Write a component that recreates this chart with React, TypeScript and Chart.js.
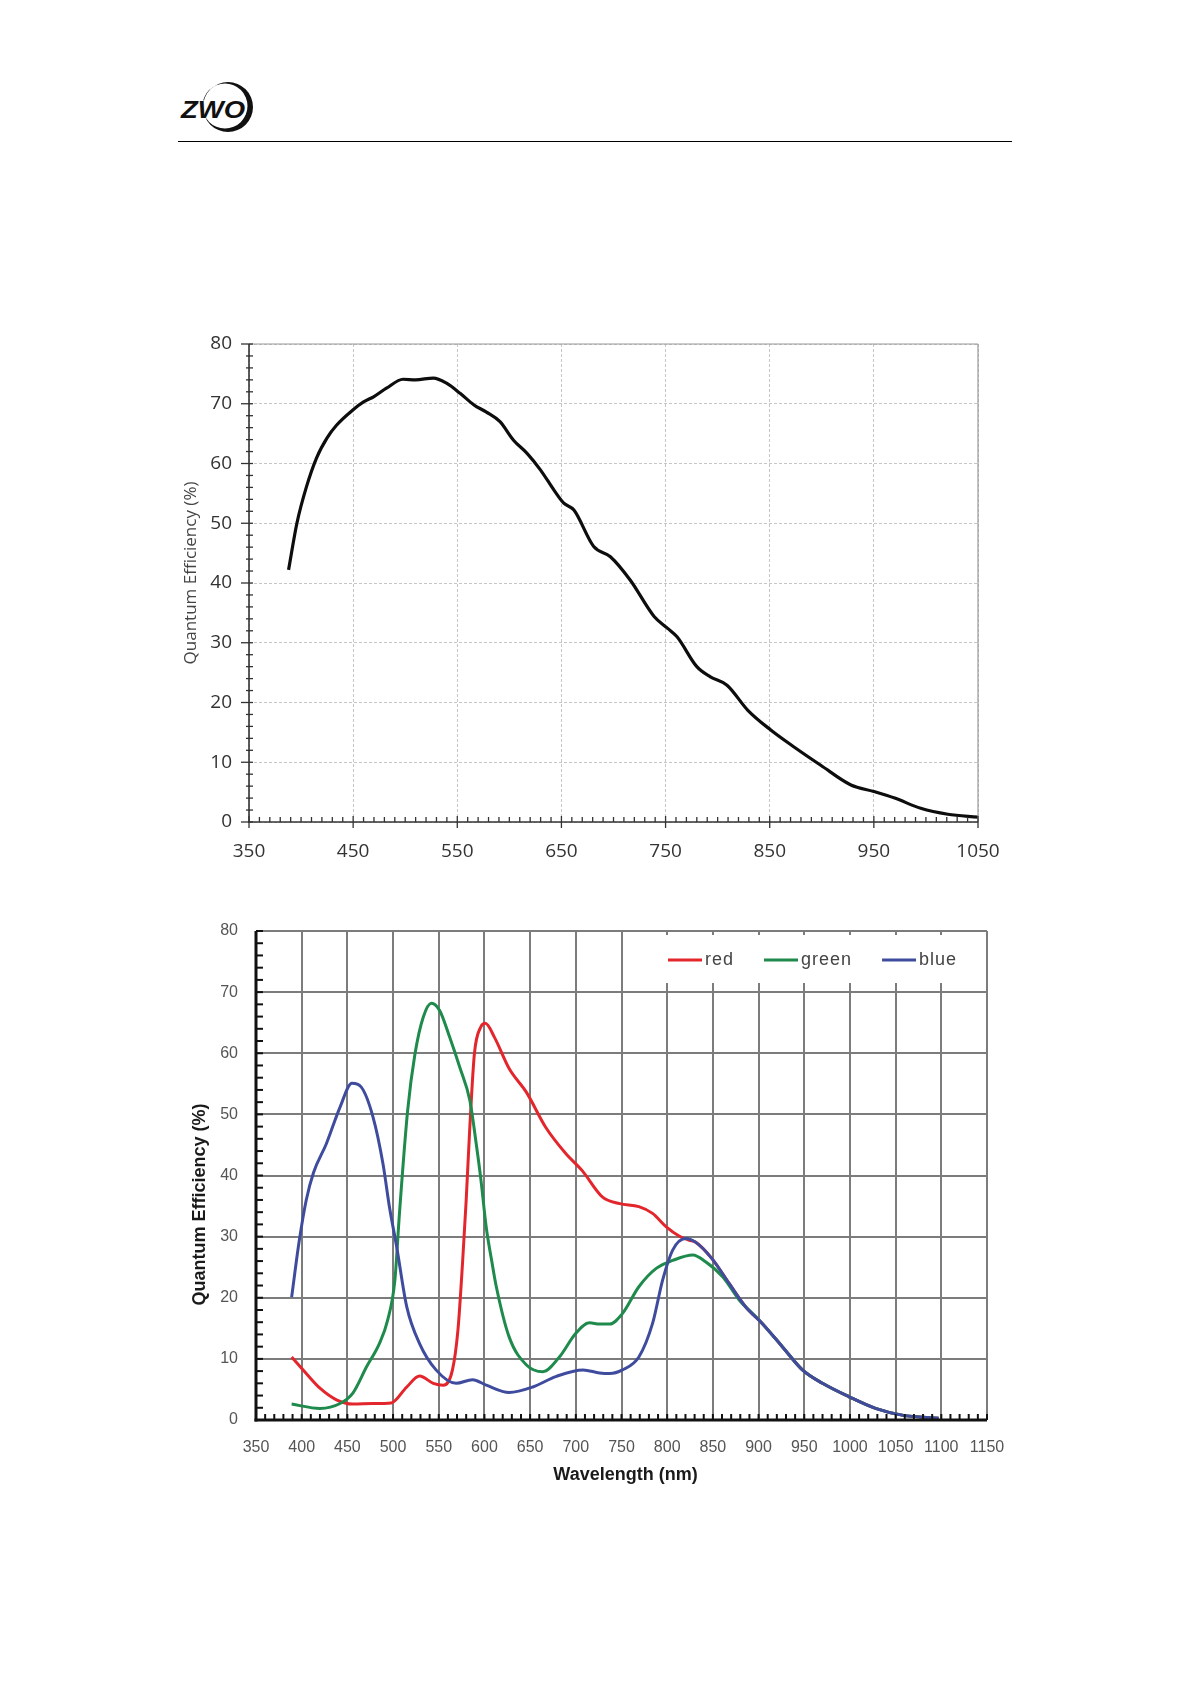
import React, { useEffect, useRef } from "react";
import { Chart, registerables } from "chart.js";

Chart.register(...registerables);

// ---------------- data: top chart (mono QE) ----------------
const qeWavelengths = [388, 396, 405, 415, 425, 434, 450, 460, 470, 482, 498, 510, 527, 540, 553, 566, 578, 591, 604, 617, 630, 643, 652, 662, 681, 697, 716, 739, 752, 761, 780, 793, 809, 829, 851, 873, 899, 928, 950, 970, 995, 1021, 1050];
const qeValues = [42.2, 50, 56, 61, 64.3, 66.4, 69, 70.3, 71.2, 72.6, 74.1, 74.0, 74.3, 73.4, 71.7, 69.8, 68.6, 67, 63.9, 61.7, 58.9, 55.5, 53.4, 52.2, 46.1, 44.4, 40.5, 34.4, 32.4, 31, 26, 24.3, 22.9, 18.7, 15.4, 12.6, 9.5, 6.2, 5.1, 4.0, 2.3, 1.3, 0.8];

// ---------------- data: bottom chart (RGB QE) ----------------
const redWavelengths = [389, 405, 420, 438, 456, 478, 498, 515, 529, 544, 555, 565, 571, 576, 580, 584, 589, 596, 601, 611, 627, 646, 667, 689, 707, 729, 748, 769, 784, 799, 813, 824, 831, 849, 868, 886, 904, 926, 948, 970, 999, 1028, 1057, 1097];
const redValues = [10.3, 7.6, 5.2, 3.3, 2.6, 2.7, 2.8, 5.4, 7.2, 6.0, 5.7, 8.2, 14.7, 25.6, 35.9, 47.9, 59.9, 64.3, 64.9, 62.6, 57.5, 53.6, 47.9, 43.6, 40.8, 36.5, 35.4, 34.9, 33.8, 31.6, 30.1, 29.4, 29.1, 26.4, 22.3, 18.5, 15.8, 12.0, 8.2, 6.0, 3.8, 1.9, 0.8, 0.3];

const greenWavelengths = [389, 420, 442, 456, 471, 485, 494, 502, 507, 516, 524, 533, 542, 551, 562, 573, 584, 591, 596, 602, 608, 613, 627, 646, 664, 682, 700, 715, 726, 737, 751, 769, 788, 806, 828, 842, 861, 879, 897, 904, 926, 948, 970, 999, 1028, 1057, 1097];
const greenValues = [2.6, 1.9, 2.7, 4.4, 8.7, 12.5, 16.3, 22.9, 33.8, 50.7, 59.9, 65.9, 68.2, 67, 62.6, 57.7, 52.3, 45.2, 39.5, 31.5, 26, 21.8, 13.6, 9.0, 7.9, 10.3, 14.2, 15.9, 15.7, 15.7, 17.4, 21.8, 24.8, 26.1, 27.0, 25.9, 23.4, 19.6, 16.9, 15.8, 12.0, 8.2, 6.0, 3.8, 1.9, 0.8, 0.3];

const blueWavelengths = [389, 397, 405, 413, 427, 442, 455, 465, 478, 489, 496, 504, 515, 529, 547, 569, 587, 602, 627, 653, 678, 708, 726, 737, 751, 769, 784, 795, 806, 820, 831, 849, 868, 886, 904, 926, 948, 970, 999, 1028, 1057, 1097];
const blueValues = [20.1, 29, 36, 40.5, 45.2, 51.2, 55.1, 54.5, 49.6, 41.9, 34.9, 28.3, 18.5, 12.5, 8.2, 6.0, 6.6, 5.7, 4.5, 5.4, 7.1, 8.2, 7.7, 7.6, 8.2, 10.3, 15.8, 22.9, 27.8, 29.7, 29.1, 26.4, 22.3, 18.5, 15.8, 12.0, 8.2, 6.0, 3.8, 1.9, 0.8, 0.3];

const seriesLabels = ["red", "green", "blue"];
const yTitle = "Quantum Efficiency (%)";
const xTitle = "Wavelength (nm)";

const toXY = (xs: number[], ys: number[]) => xs.map((x, i) => ({ x, y: ys[i] }));
const plainLabel = (v: any) => String(v);

// ---------------- decoration plugin (ticks, frame, titles, legend) ----------------
function makeDecor(o: any) {
  return {
    id: "decor",
    afterDraw(chart: any) {
      const { ctx, chartArea: a, scales } = chart;
      const xs = scales.x;
      const ys = scales.y;
      const seg = (x1: number, y1: number, x2: number, y2: number) => {
        ctx.beginPath();
        ctx.moveTo(x1, y1);
        ctx.lineTo(x2, y2);
        ctx.stroke();
      };
      ctx.save();
      ctx.lineCap = "butt";

      // legend (inside plot area, on a white box)
      if (o.legend) {
        const L = o.legend;
        ctx.fillStyle = "#ffffff";
        const bx = a.left + L.boxLeft;
        ctx.fillRect(bx, a.top + L.boxTop, a.right - L.boxRight - bx, L.boxHeight);
        let cx = a.left + L.start;
        const cy = a.top + L.y;
        ctx.font = L.font;
        ctx.textBaseline = "middle";
        ctx.textAlign = "left";
        if ("letterSpacing" in ctx) ctx.letterSpacing = L.spacing;
        chart.data.datasets.forEach((ds: any) => {
          ctx.strokeStyle = ds.borderColor;
          ctx.lineWidth = 3;
          seg(cx, cy, cx + L.lineLen, cy);
          const tx = cx + L.lineLen + L.gap;
          ctx.fillStyle = L.color;
          ctx.fillText(ds.label, tx, cy);
          cx = tx + ctx.measureText(ds.label).width + L.itemGap;
        });
        if ("letterSpacing" in ctx) ctx.letterSpacing = "0px";
      }

      // frame: top + right
      ctx.strokeStyle = o.frameColor;
      ctx.lineWidth = o.frameWidth;
      seg(a.left, a.top, a.right, a.top);
      seg(a.right, a.top, a.right, a.bottom);

      // minor / major ticks
      ctx.strokeStyle = o.tickColor;
      ctx.lineWidth = o.tickWidth;
      for (let v = ys.min; v <= ys.max + 1e-6; v += o.yMinor) {
        const p = ys.getPixelForValue(v);
        const major = Math.abs(v % o.yMajor) < 1e-6;
        const len = major ? o.yMajorLen : o.yMinorLen;
        seg(a.left - len[0], p, a.left + len[1], p);
      }
      for (let v = xs.min; v <= xs.max + 1e-6; v += o.xMinor) {
        const p = xs.getPixelForValue(v);
        const major = Math.abs((v - xs.min) % o.xMajor) < 1e-6;
        const len = major ? o.xMajorLen : o.xMinorLen;
        seg(p, a.bottom + len[0], p, a.bottom - len[1]);
      }

      // axes lines
      ctx.strokeStyle = o.axisColor;
      ctx.lineWidth = o.axisWidth;
      seg(a.left, a.top, a.left, a.bottom + o.axisWidth / 2);
      seg(a.left - o.axisWidth / 2, a.bottom, a.right, a.bottom);

      // axis titles
      ctx.textAlign = "center";
      ctx.textBaseline = "middle";
      if (o.yTitle) {
        const T = o.yTitle;
        ctx.font = T.font;
        ctx.fillStyle = T.color;
        ctx.save();
        ctx.translate(a.left + T.dx, (a.top + a.bottom) / 2 + T.dy);
        ctx.rotate(-Math.PI / 2);
        ctx.fillText(T.text, 0, 0);
        ctx.restore();
      }
      if (o.xTitle) {
        const T = o.xTitle;
        ctx.font = T.font;
        ctx.fillStyle = T.color;
        ctx.fillText(T.text, (a.left + a.right) / 2 + T.dx, a.bottom + T.dy);
      }
      ctx.restore();
    },
  };
}

function fixY(width: number) {
  return (s: any) => {
    s.width = width;
    s.paddingTop = 0;
    s.paddingBottom = 0;
    s.paddingLeft = 0;
    s.paddingRight = 0;
  };
}
function fixX(height: number) {
  return (s: any) => {
    s.height = height;
    s.paddingTop = 0;
    s.paddingBottom = 0;
    s.paddingLeft = 0;
    s.paddingRight = 0;
  };
}

// ---------------- configs ----------------
function topConfig(): any {
  const tickFont = { family: '"Open Sans", "DejaVu Sans", sans-serif', size: 19 };
  return {
    type: "line",
    data: {
      datasets: [
        {
          label: "QE",
          data: toXY(qeWavelengths, qeValues),
          borderColor: "#0d0d0d",
          borderWidth: 3.2,
          pointRadius: 0,
          fill: false,
          cubicInterpolationMode: "monotone",
        },
      ],
    },
    options: {
      responsive: false,
      animation: false,
      layout: { autoPadding: false, padding: { left: 0, top: 24, right: 42, bottom: 8 } },
      plugins: { legend: { display: false }, tooltip: { enabled: false } },
      scales: {
        x: {
          type: "linear",
          min: 350,
          max: 1050,
          afterFit: fixX(60),
          ticks: { stepSize: 100, font: tickFont, color: "#333", padding: 18, maxRotation: 0, autoSkip: false, callback: plainLabel },
          grid: { color: "#c6c6c6", lineWidth: 1, drawTicks: false, borderDash: [3, 2] },
          border: { display: false, dash: [3, 2] },
        },
        y: {
          type: "linear",
          min: 0,
          max: 80,
          afterFit: fixY(89),
          ticks: { stepSize: 10, font: tickFont, color: "#333", padding: 17, autoSkip: false, callback: plainLabel },
          grid: { color: "#c6c6c6", lineWidth: 1, drawTicks: false, borderDash: [3, 2] },
          border: { display: false, dash: [3, 2] },
        },
      },
    },
    plugins: [
      makeDecor({
        frameColor: "#9a9a9a",
        frameWidth: 1.2,
        axisColor: "#333",
        axisWidth: 1.6,
        tickColor: "#333",
        tickWidth: 1.3,
        yMinor: 2,
        yMajor: 10,
        yMinorLen: [3, 4],
        yMajorLen: [8, 4],
        xMinor: 10,
        xMajor: 100,
        xMinorLen: [0, 5],
        xMajorLen: [6, 6],
        yTitle: { text: yTitle, font: '17px "Open Sans", "DejaVu Sans", sans-serif', color: "#444", dx: -58, dy: -10 },
      }),
    ],
  };
}

function bottomConfig(): any {
  const tickFont = { family: '"Liberation Sans", Arial, sans-serif', size: 16 };
  const common = { borderWidth: 3, pointRadius: 0, fill: false, cubicInterpolationMode: "monotone" };
  return {
    type: "line",
    data: {
      datasets: [
        { label: seriesLabels[0], data: toXY(redWavelengths, redValues), borderColor: "#e3262c", order: 2, ...common },
        { label: seriesLabels[1], data: toXY(greenWavelengths, greenValues), borderColor: "#1e8a4c", order: 1, ...common },
        { label: seriesLabels[2], data: toXY(blueWavelengths, blueValues), borderColor: "#3f4c9e", order: 0, ...common },
      ],
    },
    options: {
      responsive: false,
      animation: false,
      layout: { autoPadding: false, padding: { left: 0, top: 31, right: 33, bottom: 20 } },
      plugins: { legend: { display: false }, tooltip: { enabled: false } },
      scales: {
        x: {
          type: "linear",
          min: 350,
          max: 1150,
          afterFit: fixX(60),
          ticks: { stepSize: 50, font: tickFont, color: "#555", padding: 18, maxRotation: 0, autoSkip: false, callback: plainLabel },
          grid: { color: "#7c7c7c", lineWidth: 2, drawTicks: false },
          border: { display: false },
        },
        y: {
          type: "linear",
          min: 0,
          max: 80,
          afterFit: fixY(86),
          ticks: { stepSize: 10, font: tickFont, color: "#555", padding: 18, autoSkip: false, callback: plainLabel },
          grid: { color: "#7c7c7c", lineWidth: 2, drawTicks: false },
          border: { display: false },
        },
      },
    },
    plugins: [
      makeDecor({
        frameColor: "#7c7c7c",
        frameWidth: 2,
        axisColor: "#111",
        axisWidth: 3,
        tickColor: "#111",
        tickWidth: 2,
        yMinor: 2,
        yMajor: 10,
        yMinorLen: [0, 7],
        yMajorLen: [0, 7],
        xMinor: 10,
        xMajor: 50,
        xMinorLen: [0, 6],
        xMajorLen: [0, 6],
        yTitle: { text: yTitle, font: 'bold 18px "Liberation Sans", Arial, sans-serif', color: "#1a1a1a", dx: -56, dy: 29 },
        xTitle: { text: xTitle, font: 'bold 18px "Liberation Sans", Arial, sans-serif', color: "#1a1a1a", dx: 4, dy: 55 },
        legend: {
          boxLeft: 384,
          boxRight: 2,
          boxTop: 4,
          boxHeight: 48,
          start: 412,
          y: 29,
          lineLen: 34,
          gap: 3,
          itemGap: 30,
          font: '18px "Liberation Sans", Arial, sans-serif',
          spacing: "1px",
          color: "#444",
        },
      }),
    ],
  };
}

function ChartCanvas(props: { make: () => any; left: number; top: number; width: number; height: number }) {
  const ref = useRef<HTMLCanvasElement | null>(null);
  useEffect(() => {
    if (!ref.current) return;
    const chart = new Chart(ref.current, props.make());
    return () => chart.destroy();
  }, []);
  return (
    <canvas
      ref={ref}
      width={props.width}
      height={props.height}
      style={{ position: "absolute", left: props.left, top: props.top, width: props.width, height: props.height }}
    />
  );
}

function Logo() {
  return (
    <svg style={{ position: "absolute", left: 175, top: 75 }} width={90} height={70} viewBox="0 0 90 70">
      <path
        fillRule="evenodd"
        fill="#111"
        d="M28,32 a25,25 0 1,0 50,0 a25,25 0 1,0 -50,0 Z M27.5,31 a22.5,22.5 0 1,0 45,0 a22.5,22.5 0 1,0 -45,0 Z"
      />
      <text
        x={6}
        y={43}
        fontFamily='"Liberation Sans", Arial, sans-serif'
        fontWeight={900}
        fontStyle="italic"
        fontSize={24}
        textLength={64}
        lengthAdjust="spacingAndGlyphs"
        fill="#111"
        stroke="#fff"
        strokeWidth={1}
        style={{ paintOrder: "stroke" } as any}
      >
        ZWO
      </text>
    </svg>
  );
}

export default function App() {
  return (
    <div style={{ position: "absolute", left: 0, top: 0, width: 1190, height: 1684, background: "#fff" }}>
      <Logo />
      <div style={{ position: "absolute", left: 178, top: 141, width: 834, height: 0, borderTop: "1.5px solid #000" }} />
      <ChartCanvas make={topConfig} left={160} top={320} width={860} height={570} />
      <ChartCanvas make={bottomConfig} left={170} top={900} width={850} height={600} />
    </div>
  );
}
